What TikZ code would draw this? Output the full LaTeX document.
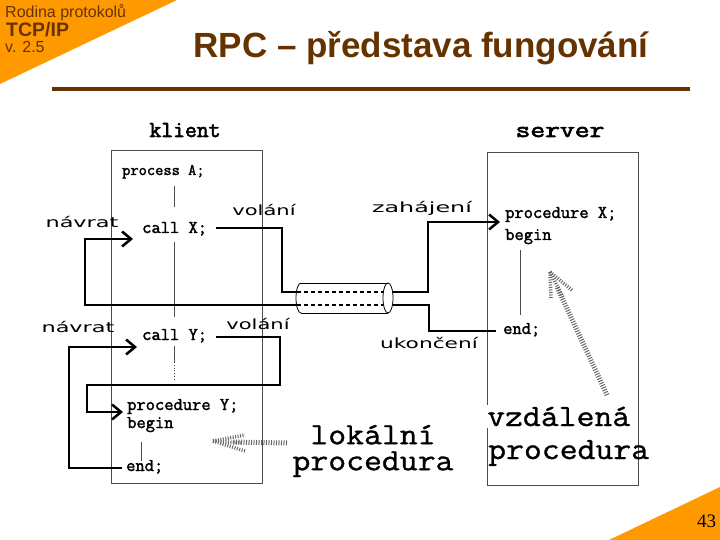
\documentclass[tikz,border=0pt]{standalone}
\usepackage{fontspec}
\setmainfont{Liberation Sans}
\newfontfamily\codef[FakeBold=2]{Latin Modern Mono}
\newfontfamily\headf[FakeBold=2.5]{Latin Modern Mono}
\newfontfamily\bigmono[FakeBold=1,FakeStretch=1.12]{Latin Modern Mono}
\newfontfamily\lblf{DejaVu Sans}
\newfontfamily\serf{Liberation Serif}
\usetikzlibrary{arrows.meta,calc}
\definecolor{brownT}{RGB}{102,51,0}
\definecolor{orangeT}{RGB}{255,153,0}
\tikzset{
  code/.style={font=\codef\fontsize{18}{20}\selectfont, anchor=base west, inner sep=0pt},
  lbl/.style={font=\lblf\fontsize{14}{16}\selectfont, anchor=base, inner sep=0pt},
  bigtxt/.style={font=\bigmono\fontsize{31}{33}\selectfont, anchor=base west, inner sep=0pt},
  head/.style={font=\headf\fontsize{23}{25}\selectfont, anchor=base, inner sep=0pt},
  frame/.style={draw=black!70, line width=1pt},
  thinl/.style={draw=black!70, line width=1pt},
  conn/.style={line width=2.5pt},
  arr/.style={conn, -{Straight Barb[length=9pt,width=15pt]}},
  hatch/.style={draw=black!60, line width=5pt, dash pattern=on 1pt off 1.5pt},
}
\begin{document}
\begin{tikzpicture}[x=1pt,y=-1pt]
\useasboundingbox (0,0) rectangle (720,540);
% corner decorations
\fill[orangeT] (0,0) -- (177,0) -- (0,84) -- cycle;
\fill[orangeT] (609,540) -- (720,487) -- (720,540) -- cycle;
\node[anchor=base west, inner sep=0pt, text=brownT, font=\fontsize{16}{18}\selectfont] (rod) at (5,18) {Rodina protokolů};
\node[anchor=base west, inner sep=0pt, text=brownT, font=\bfseries\fontsize{19.5}{21}\selectfont] (tcp) at (6,37) {TCP/IP};
\node[anchor=base west, inner sep=0pt, text=brownT, font=\fontsize{16}{18}\selectfont] (ver) at (5,53) {v. 2.5};
\node[anchor=base, inner sep=0pt, text=brownT, font=\bfseries\fontsize{35}{38}\selectfont] (title) at (421,58) {RPC – představa fungování};
\draw[brownT, line width=3.5pt] (52,89) -- (690,89);
\node[anchor=base west, inner sep=0pt, font=\serf\fontsize{19}{21}\selectfont] (pg) at (697,527) {43};

% boxes
\node[head] (klient) at (185,137) {klient};
\node[head] (server) at (560,137) {\scalebox{1.25}[1]{server}};
\node[frame, minimum width=151, minimum height=332, inner sep=0pt] (cbox) at (186.5,317) {};
\node[frame, minimum width=151, minimum height=332, inner sep=0pt] (sbox) at (562.5,319) {};

% client code
\node[code, font=\codef\fontsize{16}{18}\selectfont] (procA) at (122,175) {process A;};
\node[code] (callX) at (142,233) {call X;};
\node[code] (callY) at (142,340) {call Y;};
\node[code] (procY) at (127,410) {procedure Y;};
\node[code] (beginY) at (127,428) {begin};
\node[code] (endY) at (126,471) {end;};
% server code
\node[code] (procX) at (505,218) {procedure X;};
\node[code] (beginX) at (505,240) {begin};
\node[code] (endX) at (503,334) {end;};

% thin flow lines
\draw[thinl] (174,186) -- (174,207);
\draw[thinl] (174,242) -- (174,317);
\draw[thinl] (174,346) -- (174,362);
\draw[thinl, line width=0.8pt, dotted] (174,362) -- (174,381);
\draw[thinl] (141,442) -- (141,461);
\draw[thinl] (520,250) -- (520,315);

% cylinder (network)
\coordinate (cylL1) at (297,292);
\coordinate (cylL2) at (297,305);
\coordinate (cylR1) at (393,292);
\coordinate (cylR2) at (393,305);
\fill[white] (301,283) rectangle (388,313);
\draw[line width=0.8pt] (301,283) -- (388,283);
\draw[line width=0.8pt] (301,313) -- (388,313);
\draw[line width=0.8pt] (301,283) arc[start angle=270, end angle=90, x radius=5, y radius=15];
\draw[line width=0.8pt] (388,298) ellipse[x radius=5, y radius=15];
\draw[line width=2pt, dash pattern=on 4pt off 3pt] (cylL1) -- (383,292);
\draw[line width=2pt, dash pattern=on 4pt off 3pt] (cylL2) -- (383,305);

% connectors
\draw[conn] ($(callX.base east)+(9,-5)$) -| (282,292) -- (cylL1);
\draw[arr] (cylL2) -| (85,239) -- ($(callX.base west)+(-9,6)$);
\draw[arr] ($(callY.base east)+(9,-3)$) -| (280,385) -| (87,412) -- ($(procY.base west)+(-4,2)$);
\draw[arr] ($(endY.base west)+(-4,-3)$) -| (69,347) -- ($(callY.base west)+(-5,7)$);
\draw[arr] (cylR1) -| (428,222) -- ($(procX.base west)+(-5,4)$);
\draw[conn] (cylR2) -| (429,331) -- ($(endX.base west)+(-7,-3)$);

% connector labels
\node[lbl] (nav1) at (82,227) {\scalebox{1.6}[1]{návrat}};
\node[lbl] (nav2) at (78,332) {\scalebox{1.6}[1]{návrat}};
\node[lbl] (vol1) at (264,215) {\scalebox{1.5}[1]{volání}};
\node[lbl] (vol2) at (258,329) {\scalebox{1.5}[1]{volání}};
\node[lbl] (zah) at (422,212) {\scalebox{1.7}[1]{zahájení}};
\node[lbl] (uko) at (429,348) {\scalebox{1.55}[1]{ukončení}};

% hatched arrows
\draw[hatch] (607,395) -- (557,287);
\draw[hatch, line width=3.5pt] (550,272) -- (551,298);
\draw[hatch, line width=3.5pt] (550,272) -- (573,291);
\draw[hatch, line width=3.5pt] (550,272) -- (563,297);
\draw[hatch] (287,443) -- (232,442);
\draw[hatch, line width=3.5pt] (213,441) -- (245,435);
\draw[hatch, line width=3.5pt] (213,441) -- (245,451);
\draw[hatch, line width=3.5pt] (213,441) -- (242,443);

% big labels
\node[bigtxt, anchor=center, align=center, font=\bigmono\fontsize{31}{26}\selectfont] (lok) at (373,451) {lokální\\procedura};
\node[bigtxt, fill=white, inner sep=2pt] (vzd) at (485,426) {vzdálená};
\node[bigtxt] (vzd2) at (488,459) {procedura};
\end{tikzpicture}
\end{document}
